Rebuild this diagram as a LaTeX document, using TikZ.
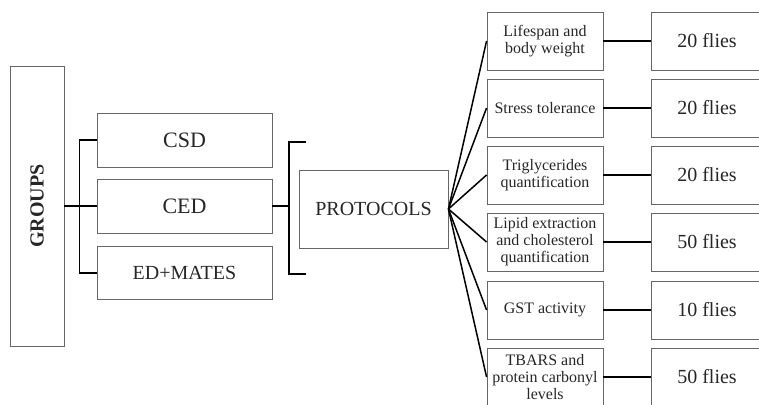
\documentclass[tikz,border=0pt]{standalone}
\usepackage{fontspec}
\setmainfont{Liberation Serif}

\begin{document}
\begin{tikzpicture}[x=1pt,y=1pt,
  box/.style={draw=black!60, line width=0.9pt, inner sep=0pt, align=center, text=black!85},
  conn/.style={black, line width=1.8pt},
  fan/.style={black, line width=1.5pt},
  ]
\useasboundingbox (0,0) rectangle (759,404);
\clip (0,0) rectangle (759,404);
% groups
\node[box, minimum width=54pt, minimum height=280pt] (groups) at (37,198) {};
\node[rotate=90, text=black!85, font=\bfseries\fontsize{20}{22}\selectfont] (grouplbl) at (groups.center) {GROUPS};
\node[box, minimum width=175pt, minimum height=54pt, font=\fontsize{22}{24}\selectfont] (csd) at (184.5,264) {CSD};
\node[box, minimum width=175pt, minimum height=54pt, font=\fontsize{22}{24}\selectfont] (ced) at (184.5,198) {CED};
\node[box, minimum width=175pt, minimum height=53pt, font=\fontsize{20}{22}\selectfont] (edm) at (184.5,131) {ED+MATES};
\draw[conn] (csd.west) -- ++(-17,0) |- (edm.west);
\draw[conn] (groups.east) -- (ced.west);
% protocols
\node[box, minimum width=149pt, minimum height=78pt, font=\fontsize{20}{22}\selectfont] (prot) at (373.5,195) {PROTOCOLS};
\coordinate (btop) at (306,262);
\coordinate (bbot) at (306,130);
\coordinate (bmid) at (289,198);
\draw[conn] (btop) -- ++(-17,0) |- (bbot);
\draw[conn] (ced.east) -- (bmid);
% assays and flies
\foreach \i/\y/\txt/\n in {1/363/{Lifespan and\\body weight}/20,
                          2/296/{Stress tolerance}/20,
                          3/229/{Triglycerides\\quantification}/20,
                          4/162/{Lipid extraction\\and cholesterol\\quantification}/50,
                          5/94/{GST activity}/10,
                          6/27/{TBARS and\\protein carbonyl\\levels}/50}{
  \node[box, minimum width=116pt, minimum height=58pt, font=\fontsize{16}{17}\selectfont] (p\i) at (545,\y) {\txt};
  \node[box, minimum width=112pt, minimum height=58pt, font=\fontsize{20}{22}\selectfont] (f\i) at (707,\y) {\n~flies};
  \draw[fan] (prot.east) -- (p\i.west);
  \draw[conn] (p\i.east) -- (f\i.west);
}
\end{tikzpicture}
\end{document}
